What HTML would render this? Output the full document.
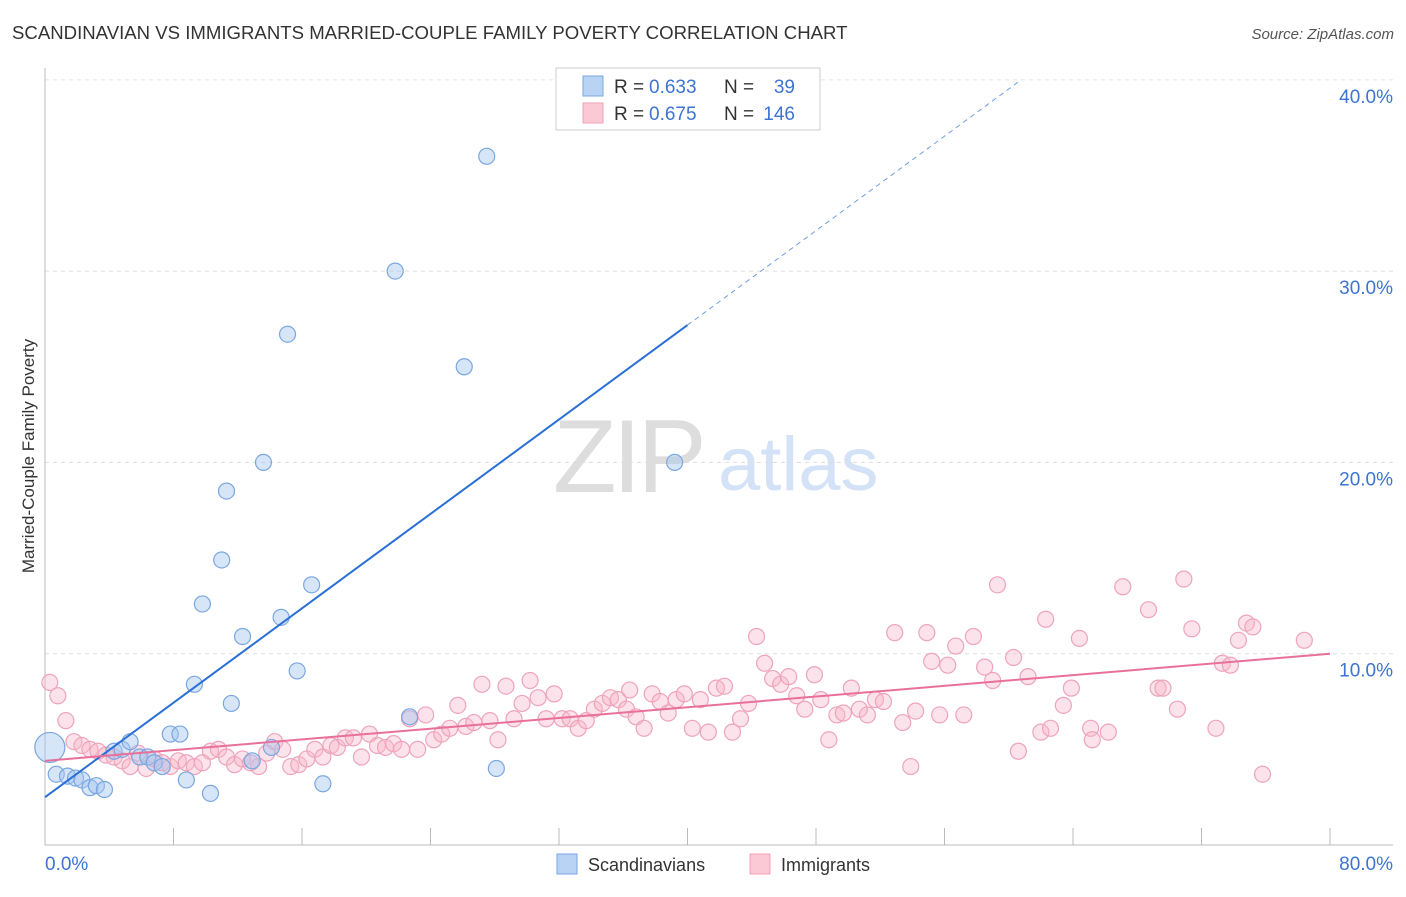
<!DOCTYPE html>
<html><head><meta charset="utf-8">
<style>
body{margin:0;background:#fff;font-family:"Liberation Sans",sans-serif;}
svg text{font-family:"Liberation Sans",sans-serif;}
</style></head>
<body>
<svg id="chart" width="1406" height="892" viewBox="0 0 1406 892" xmlns="http://www.w3.org/2000/svg">
<text x="12" y="39" font-size="18.6" fill="#333">SCANDINAVIAN VS IMMIGRANTS MARRIED-COUPLE FAMILY POVERTY CORRELATION CHART</text>
<text x="1394" y="39" font-size="15" fill="#555" text-anchor="end" font-style="italic">Source: ZipAtlas.com</text>
<g>
<text x="553" y="492" font-size="104" fill="#ddd" font-family="Liberation Serif, serif" letter-spacing="-4">ZIP</text>
<text x="718" y="490" font-size="76" fill="#d3e2f6">atlas</text>
</g>
<g id="grid"></g>
<g id="axes"></g>
<g id="marks"></g>
<text transform="translate(34,456) rotate(-90)" font-size="17" fill="#333" text-anchor="middle">Married-Couple Family Poverty</text>
<g>
<rect x="556" y="68" width="264" height="62" fill="#fff" stroke="#ccc"/>
<rect x="583" y="76" width="20" height="20" fill="#b9d3f5" stroke="#7aa7e0"/>
<rect x="583" y="103" width="20" height="20" fill="#fbc8d6" stroke="#f0a0b8"/>
<text x="614" y="93" font-size="19" fill="#333">R =</text>
<text x="649" y="93" font-size="19" fill="#3d74d1">0.633</text>
<text x="724" y="93" font-size="19" fill="#333">N =</text>
<text x="795" y="93" font-size="19" fill="#3d74d1" text-anchor="end">39</text>
<text x="614" y="120" font-size="19" fill="#333">R =</text>
<text x="649" y="120" font-size="19" fill="#3d74d1">0.675</text>
<text x="724" y="120" font-size="19" fill="#333">N =</text>
<text x="795" y="120" font-size="19" fill="#3d74d1" text-anchor="end">146</text>
</g>
<g>
<rect x="557" y="854" width="20" height="20" fill="#b9d3f5" stroke="#7aa7e0"/>
<text x="588" y="871" font-size="18" fill="#333">Scandinavians</text>
<rect x="750" y="854" width="20" height="20" fill="#fbc8d6" stroke="#f0a0b8"/>
<text x="781" y="871" font-size="18" fill="#333">Immigrants</text>
</g>
</svg>
<script>
const yTicks=[10,20,30,40];
const yTickLabels=["10.0%","20.0%","30.0%","40.0%"];
const xTicks=[0,8,16,24,32,40,48,56,64,72,80];
const blueX=[0.3,0.7,1.4,1.9,2.3,2.8,3.2,3.7,4.3,4.8,5.3,5.9,6.4,6.8,7.3,7.8,8.4,8.8,9.3,9.8,10.3,11.0,11.3,11.6,12.3,12.9,13.6,14.1,14.7,15.1,15.7,16.6,17.3,21.8,22.7,26.1,27.5,28.1,39.2];
const blueY=[5.1,3.7,3.6,3.5,3.4,3.0,3.1,2.9,4.9,5.0,5.4,4.6,4.6,4.3,4.1,5.8,5.8,3.4,8.4,12.6,2.7,14.9,18.5,7.4,10.9,4.4,20.0,5.1,11.9,26.7,9.1,13.6,3.2,30.0,6.7,25.0,36.0,4.0,20.0];
const pinkX=[0.3,0.8,1.3,1.8,2.3,2.8,3.3,3.8,4.3,4.8,5.3,5.8,6.3,6.8,7.3,7.8,8.3,8.8,9.3,9.8,10.3,10.8,11.3,11.8,12.3,12.8,13.3,13.8,14.3,14.8,15.3,15.8,16.3,16.8,17.3,17.8,18.2,18.7,19.2,19.7,20.2,20.7,21.2,21.7,22.2,22.7,23.2,23.7,24.2,24.7,25.2,25.7,26.2,26.7,27.2,27.7,28.2,28.7,29.2,29.7,30.2,30.7,31.2,31.7,32.2,32.7,33.2,33.7,34.2,34.7,35.2,35.7,36.2,36.4,36.8,37.3,37.8,38.3,38.8,39.3,39.8,40.3,40.8,41.3,41.8,42.3,42.8,43.3,43.8,44.3,44.8,45.3,45.8,46.3,46.8,47.3,47.9,48.3,48.8,49.3,49.7,50.2,50.7,51.2,51.7,52.2,52.9,53.4,53.9,54.2,54.9,55.2,55.7,56.2,56.7,57.2,57.8,58.5,59.0,59.3,60.3,60.6,61.2,62.0,62.3,62.6,63.4,63.9,64.4,65.1,65.2,66.2,67.1,68.7,69.3,69.6,70.5,70.9,71.4,72.9,73.3,73.8,74.3,74.8,75.2,75.8,78.4];
const pinkY=[8.5,7.8,6.5,5.4,5.2,5.0,4.9,4.7,4.6,4.4,4.1,4.8,4.0,4.5,4.3,4.1,4.4,4.3,4.1,4.3,4.9,5.0,4.6,4.2,4.5,4.3,4.1,4.8,5.4,5.0,4.1,4.2,4.5,5.0,4.6,5.2,5.1,5.6,5.6,4.6,5.8,5.2,5.1,5.3,5.0,6.6,5.0,6.8,5.5,5.8,6.1,7.3,6.2,6.4,8.4,6.5,5.5,8.3,6.6,7.4,8.6,7.7,6.6,7.9,6.6,6.6,6.1,6.5,7.1,7.4,7.7,7.6,7.1,8.1,6.7,6.1,7.9,7.5,6.9,7.6,7.9,6.1,7.6,5.9,8.2,8.3,5.9,6.6,7.4,10.9,9.5,8.7,8.4,8.8,7.8,7.1,8.9,7.6,5.5,6.8,6.9,8.2,7.1,6.8,7.6,7.5,11.1,6.4,4.1,7.0,11.1,9.6,6.8,9.4,10.4,6.8,10.9,9.3,8.6,13.6,9.8,4.9,8.8,5.9,11.8,6.1,7.3,8.2,10.8,6.1,5.5,5.9,13.5,12.3,8.2,8.2,7.1,13.9,11.3,6.1,9.5,9.4,10.7,11.6,11.4,3.7,10.7];
const blueTrend=[2.5,0.617];
const pinkTrend=[4.4,0.07];

const NS="http://www.w3.org/2000/svg";
const xs=v=>45+v*(1330-45)/80;
const ys=v=>845-v*19.13;
function mk(tag,attrs,parent){const e=document.createElementNS(NS,tag);for(const k in attrs)e.setAttribute(k,attrs[k]);parent.appendChild(e);return e;}
const grid=document.getElementById('grid'),axes=document.getElementById('axes'),marks=document.getElementById('marks');
yTicks.forEach((t,i)=>{
  const l=mk('line',{x1:45,x2:1393,y1:ys(t),y2:ys(t),stroke:'#ddd','stroke-dasharray':'4,4'},grid);
  
  
  const tx=mk('text',{x:1393,y:ys(t)+23,'font-size':19,fill:'#3d74d1','text-anchor':'end'},axes);
  tx.textContent=yTickLabels[i];
  
  
});
const topLine=mk('line',{x1:45,x2:1393,y1:80,y2:80,stroke:'#eee','stroke-dasharray':'4,4'},grid);


const ya=mk('line',{x1:45,x2:45,y1:68,y2:845,stroke:'#bbb'},axes);


const xa=mk('line',{x1:45,x2:1393,y1:845,y2:845,stroke:'#bbb'},axes);


xTicks.forEach(t=>{
  const tk=mk('line',{x1:xs(t),x2:xs(t),y1:828,y2:845,stroke:'#bbb'},axes);
  
  
});
const xl0=mk('text',{x:45,y:870,'font-size':19,fill:'#3d74d1'},axes);xl0.textContent='0.0%';


const xl1=mk('text',{x:1393,y:870,'font-size':19,fill:'#3d74d1','text-anchor':'end'},axes);xl1.textContent='80.0%';



pinkX.forEach((x,i)=>{
  const c=mk('circle',{cx:xs(x),cy:ys(pinkY[i]),r:8,fill:'rgba(248,182,202,0.4)',stroke:'#eea4bb','stroke-width':1.2},marks);
  
  
});
blueX.forEach((x,i)=>{
  const c=mk('circle',{cx:xs(x),cy:ys(blueY[i]),r:i===0?15:8,fill:'rgba(165,198,240,0.45)',stroke:'#7aa7e0','stroke-width':1.2},marks);
  
  
});
const bx2=40,bx3=(40-blueTrend[0])/blueTrend[1];
const bl=mk('line',{x1:xs(0),y1:ys(blueTrend[0]),x2:xs(bx2),y2:ys(blueTrend[0]+blueTrend[1]*bx2),stroke:'#2a6fd6','stroke-width':2},marks);


const bd=mk('line',{x1:xs(bx2),y1:ys(blueTrend[0]+blueTrend[1]*bx2),x2:xs(bx3),y2:ys(40),stroke:'#6f9fe0','stroke-width':1,'stroke-dasharray':'5,4'},marks);


const pl=mk('line',{x1:xs(0),y1:ys(pinkTrend[0]),x2:xs(80),y2:ys(pinkTrend[0]+pinkTrend[1]*80),stroke:'#e8709a','stroke-width':2},marks);


</script>
</body></html>
